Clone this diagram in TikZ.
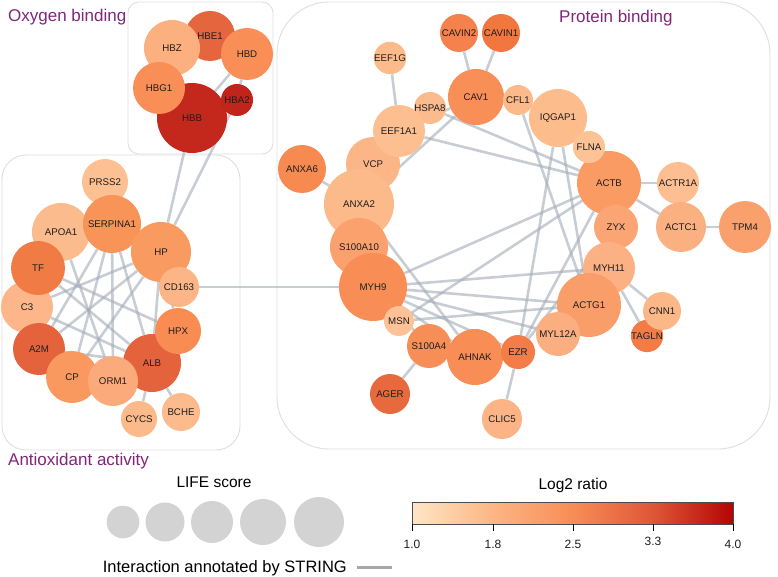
\documentclass[tikz,border=0pt]{standalone}
\usepackage{fontspec}
\setmainfont{Liberation Sans}
\pgfdeclarelayer{boxes}
\pgfdeclarelayer{bg}
\pgfsetlayers{boxes,bg,main}
\definecolor{labelc}{HTML}{1E1E1E}
\definecolor{grpc}{HTML}{80267A}
\definecolor{boxc}{HTML}{DEDEDE}
\definecolor{edgec}{HTML}{A3ABB8}
\definecolor{legc}{HTML}{D3D3D3}
\definecolor{strc}{HTML}{A8A8A8}
% node colours
\definecolor{cHBE1}{HTML}{E5653F}
\definecolor{cHBZ}{HTML}{FCAF7F}
\definecolor{cHBD}{HTML}{F98F57}
\definecolor{cHBG1}{HTML}{F98E57}
\definecolor{cHBB}{HTML}{C4271B}
\definecolor{cHBA2}{HTML}{C0241A}
\definecolor{cPRSS2}{HTML}{FDC092}
\definecolor{cSERPINA1}{HTML}{F89458}
\definecolor{cAPOA1}{HTML}{FCBB8C}
\definecolor{cHP}{HTML}{F99A60}
\definecolor{cTF}{HTML}{F17B45}
\definecolor{cCD163}{HTML}{FCB586}
\definecolor{cC3}{HTML}{FCB689}
\definecolor{cHPX}{HTML}{F88C53}
\definecolor{cA2M}{HTML}{E4633C}
\definecolor{cALB}{HTML}{E4623C}
\definecolor{cCP}{HTML}{F9985F}
\definecolor{cORM1}{HTML}{FBAB7B}
\definecolor{cCYCS}{HTML}{FCB989}
\definecolor{cBCHE}{HTML}{FCBB8C}
\definecolor{cCAVIN2}{HTML}{F5814C}
\definecolor{cCAVIN1}{HTML}{F1773F}
\definecolor{cEEF1G}{HTML}{FDBB8B}
\definecolor{cCAV1}{HTML}{F88F57}
\definecolor{cCFL1}{HTML}{FCB98A}
\definecolor{cHSPA8}{HTML}{FCBB8D}
\definecolor{cEEF1A1}{HTML}{FDBF90}
\definecolor{cIQGAP1}{HTML}{FDBC8C}
\definecolor{cFLNA}{HTML}{FDC395}
\definecolor{cANXA6}{HTML}{F68A50}
\definecolor{cVCP}{HTML}{FCB586}
\definecolor{cANXA2}{HTML}{FCB98A}
\definecolor{cS100A10}{HTML}{FAA16D}
\definecolor{cMYH9}{HTML}{F88E56}
\definecolor{cACTB}{HTML}{F99B63}
\definecolor{cACTR1A}{HTML}{FDBF91}
\definecolor{cZYX}{HTML}{FAA573}
\definecolor{cACTC1}{HTML}{FBB082}
\definecolor{cTPM4}{HTML}{F9A06C}
\definecolor{cMYH11}{HTML}{FBB183}
\definecolor{cACTG1}{HTML}{F99E68}
\definecolor{cCNN1}{HTML}{FCB789}
\definecolor{cTAGLN}{HTML}{F27B46}
\definecolor{cMYL12A}{HTML}{FBAE7F}
\definecolor{cMSN}{HTML}{FDC396}
\definecolor{cS100A4}{HTML}{F88E57}
\definecolor{cAHNAK}{HTML}{F88D56}
\definecolor{cEZR}{HTML}{F47C47}
\definecolor{cAGER}{HTML}{E9693F}
\definecolor{cCLIC5}{HTML}{FCB486}
% colour bar
\definecolor{cb0}{HTML}{FEE6C6}
\definecolor{cb1}{HTML}{FCB685}
\definecolor{cb2}{HTML}{F88D56}
\definecolor{cb3}{HTML}{DF5637}
\definecolor{cb4}{HTML}{B40404}
\pgfdeclarehorizontalshading{orrdbar}{100bp}{color(0bp)=(cb0); color(25bp)=(cb0); color(37.5bp)=(cb1); color(50bp)=(cb2); color(62.5bp)=(cb3); color(75bp)=(cb4); color(100bp)=(cb4)}
\tikzset{
  gene/.style={circle, inner sep=0pt, text=labelc, font=\fontsize{9.7}{10}\selectfont},
  link/.style={draw=edgec, line width=2.6pt, opacity=0.6},
  grpbox/.style={draw=boxc, line width=0.9pt},
  grplabel/.style={text=grpc, font=\fontsize{17}{19}\selectfont, inner sep=0pt, anchor=west},
  legtext/.style={text=black, font=\fontsize{15.5}{17}\selectfont, inner sep=0pt},
  ticklab/.style={text=labelc, font=\fontsize{12}{13}\selectfont, inner sep=0pt},
  legdot/.style={circle, fill=legc, inner sep=0pt},
}
\begin{document}
\begin{tikzpicture}[x=1pt, y=-1pt]
\useasboundingbox (0,0) rectangle (778,577);

% group boxes
\begin{pgfonlayer}{boxes}
\draw[grpbox, rounded corners=11pt] (128,2) rectangle (273,154);
\draw[grpbox, rounded corners=24pt] (2,155) rectangle (240,450);
\draw[grpbox, rounded corners=52pt] (277,2) rectangle (770,449);
\end{pgfonlayer}

\node[grplabel] (lox) at (8,17) {Oxygen binding};
\node[grplabel] (lpb) at (559,18) {Protein binding};
\node[grplabel] (lao) at (8,461) {Antioxidant activity};

% Oxygen binding
\node[gene, minimum size=70pt, fill=cHBB] (HBB) at (192,118) {HBB};
\node[gene, minimum size=50pt, fill=cHBE1] (HBE1) at (210,36) {HBE1};
\node[gene, minimum size=56pt, fill=cHBZ] (HBZ) at (172,48) {HBZ};
\node[gene, minimum size=52pt, fill=cHBD] (HBD) at (247,54) {HBD};
\node[gene, minimum size=52pt, fill=cHBG1] (HBG1) at (159,88) {HBG1};
\node[gene, minimum size=32pt, fill=cHBA2] (HBA2) at (237,100) {HBA2};

% Antioxidant activity
\node[gene, minimum size=46pt, fill=cPRSS2] (PRSS2) at (105,182) {PRSS2};
\node[gene, minimum size=58pt, fill=cAPOA1] (APOA1) at (61,232) {APOA1};
\node[gene, minimum size=58pt, fill=cSERPINA1] (SERPINA1) at (112,224) {SERPINA1};
\node[gene, minimum size=60pt, fill=cHP] (HP) at (161,252) {HP};
\node[gene, minimum size=40pt, fill=cCD163] (CD163) at (179,287) {CD163};
\node[gene, minimum size=52pt, fill=cC3] (C3) at (27,307) {C3};
\node[gene, minimum size=54pt, fill=cTF] (TF) at (38,268) {TF};
\node[gene, minimum size=52pt, fill=cA2M] (A2M) at (39,349) {A2M};
\node[gene, minimum size=58pt, fill=cALB] (ALB) at (152,363) {ALB};
\node[gene, minimum size=46pt, fill=cHPX] (HPX) at (178,331) {HPX};
\node[gene, minimum size=52pt, fill=cCP] (CP) at (72,377) {CP};
\node[gene, minimum size=50pt, fill=cORM1] (ORM1) at (113,381) {ORM1};
\node[gene, minimum size=36pt, fill=cCYCS] (CYCS) at (139,419) {CYCS};
\node[gene, minimum size=38pt, fill=cBCHE] (BCHE) at (181,412) {BCHE};

% Protein binding
\node[gene, minimum size=38pt, fill=cCAVIN2] (CAVIN2) at (459,33) {CAVIN2};
\node[gene, minimum size=38pt, fill=cCAVIN1] (CAVIN1) at (501,33) {CAVIN1};
\node[gene, minimum size=32pt, fill=cEEF1G] (EEF1G) at (390,58) {EEF1G};
\node[gene, minimum size=32pt, fill=cHSPA8] (HSPA8) at (430,108) {HSPA8};
\node[gene, minimum size=56pt, fill=cCAV1] (CAV1) at (476,97) {CAV1};
\node[gene, minimum size=30pt, fill=cCFL1] (CFL1) at (518,100) {CFL1};
\node[gene, minimum size=58pt, fill=cIQGAP1] (IQGAP1) at (558,118) {IQGAP1};
\node[gene, minimum size=48pt, fill=cANXA6] (ANXA6) at (302,169) {ANXA6};
\node[gene, minimum size=54pt, fill=cVCP] (VCP) at (373,164) {VCP};
\node[gene, minimum size=52pt, fill=cEEF1A1] (EEF1A1) at (399,131) {EEF1A1};
\node[gene, minimum size=70pt, fill=cANXA2] (ANXA2) at (359,204) {ANXA2};
\node[gene, minimum size=58pt, fill=cS100A10] (S100A10) at (359,247) {S100A10};
\node[gene, minimum size=68pt, fill=cMYH9] (MYH9) at (373,287) {MYH9};
\node[gene, minimum size=30pt, fill=cMSN] (MSN) at (399,321) {MSN};
\node[gene, minimum size=64pt, fill=cACTB] (ACTB) at (609,183) {ACTB};
\node[gene, minimum size=32pt, fill=cFLNA] (FLNA) at (589,147) {FLNA};
\node[gene, minimum size=42pt, fill=cACTR1A] (ACTR1A) at (678,183) {ACTR1A};
\node[gene, minimum size=50pt, fill=cACTC1] (ACTC1) at (681,227) {ACTC1};
\node[gene, minimum size=52pt, fill=cTPM4] (TPM4) at (745,227) {TPM4};
\node[gene, minimum size=44pt, fill=cZYX] (ZYX) at (616,227) {ZYX};
\node[gene, minimum size=52pt, fill=cMYH11] (MYH11) at (609,268) {MYH11};
\node[gene, minimum size=64pt, fill=cACTG1] (ACTG1) at (589,305) {ACTG1};
\node[gene, minimum size=44pt, fill=cMYL12A] (MYL12A) at (558,334) {MYL12A};
\node[gene, minimum size=32pt, fill=cTAGLN] (TAGLN) at (647,336) {TAGLN};
\node[gene, minimum size=38pt, fill=cCNN1] (CNN1) at (662,311) {CNN1};
\node[gene, minimum size=44pt, fill=cS100A4] (S100A4) at (429,346) {S100A4};
\node[gene, minimum size=56pt, fill=cAHNAK] (AHNAK) at (475,357) {AHNAK};
\node[gene, minimum size=34pt, fill=cEZR] (EZR) at (518,352) {EZR};
\node[gene, minimum size=40pt, fill=cAGER] (AGER) at (390,394) {AGER};
\node[gene, minimum size=40pt, fill=cCLIC5] (CLIC5) at (502,419) {CLIC5};

% interactions
\begin{pgfonlayer}{bg}
\foreach \a/\b in {HBD/HBB, HBD/HBA2, HBB/HP, HBA2/HP, CD163/MYH9,
  SERPINA1/ALB, SERPINA1/ORM1, SERPINA1/CP, SERPINA1/A2M, SERPINA1/PRSS2,
  HP/A2M, HP/CP, HP/C3, HP/HPX, HP/ALB, HP/CD163,
  TF/ALB, TF/HPX, APOA1/ORM1, C3/ALB, A2M/ALB, ALB/CYCS, ALB/BCHE,
  EEF1G/EEF1A1, CAVIN2/CAV1, CAVIN1/CAV1, CAV1/EEF1A1, CAV1/ANXA2,
  EEF1A1/ACTB, HSPA8/ACTB, CFL1/ACTG1, IQGAP1/EZR, IQGAP1/ACTG1,
  ACTB/MYH9, ACTB/MSN, ACTB/EZR, ZYX/EZR, ACTB/ACTR1A, ACTB/ACTC1, ACTC1/TPM4,
  MYH9/MYH11, MYH9/ACTG1, MYH9/MYL12A, MYH9/AHNAK, MYH9/EZR, MYH9/S100A4,
  MSN/ACTG1, ANXA2/AHNAK, ANXA6/ANXA2, S100A4/AGER, EZR/CLIC5,
  MYH11/CNN1, MYH11/TAGLN}
  \draw[link] (\a) -- (\b);
\end{pgfonlayer}

% legend: LIFE score
\node[legtext] (lifet) at (214,482) {LIFE score};
\node[legdot, minimum size=32.6pt] (s1) at (123,522) {};
\node[legdot, minimum size=39pt] (s2) at (165,522) {};
\node[legdot, minimum size=42pt] (s3) at (212,522) {};
\node[legdot, minimum size=46pt] (s4) at (263,522) {};
\node[legdot, minimum size=50pt] (s5) at (319,522) {};

% legend: STRING
\node[legtext, font=\fontsize{16.5}{18}\selectfont, anchor=east] (strt) at (347,568) {Interaction annotated by STRING};
\coordinate (sl1) at (357,567);
\coordinate (sl2) at (392,567);
\draw[draw=strc, line width=3pt] (sl1) -- (sl2);

% legend: colour bar
\node[legtext] (logt) at (573,485) {Log2 ratio};
\shade[shading=orrdbar] (412,502) rectangle (733,524);
\draw[draw=black!70, line width=0.6pt] (412,502) rectangle (733,524);
\foreach \x/\t/\dy in {412/1.0/0, 493/1.8/0, 573/2.5/0, 653/3.3/-3, 733/4.0/0} {
  \draw[black, line width=1pt] (\x,524) -- (\x,531);
  \node[ticklab] at (\x,544+\dy) {\t};
}
\end{tikzpicture}
\end{document}
